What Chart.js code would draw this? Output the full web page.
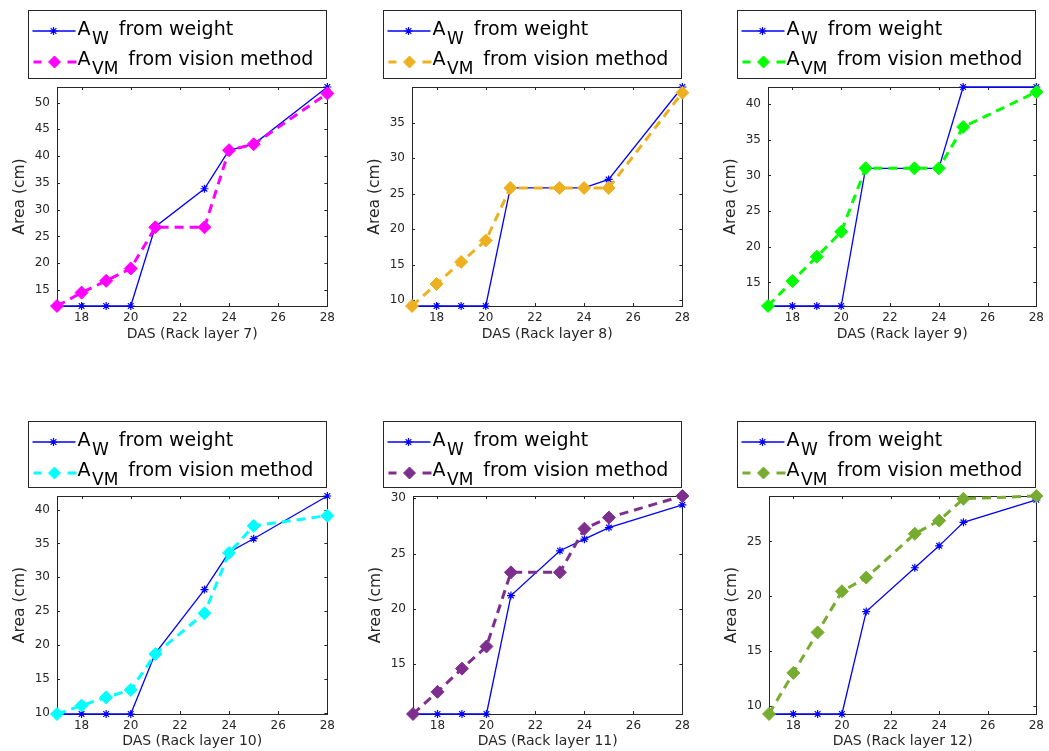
<!DOCTYPE html>
<html>
<head>
<meta charset="utf-8">
<title>Area por capa</title>
<script src="https://cdn.jsdelivr.net/npm/chart.js@4.4.1/dist/chart.umd.min.js"></script>
<style>
    html, body { margin: 0; padding: 0; background: #fff; overflow: hidden; }
    #figura { position: relative; width: 1049px; height: 751px; }
    #figura canvas { position: absolute; }
</style>
</head>
<body>
<main id="figura"></main>
<script>
// dias despues de siembra
const dias = [17, 18, 19, 20, 21, 23, 24, 25, 28];
const ticksX = [18, 20, 22, 24, 26, 28];

const pesoL7 = [12, 12, 12, 12, 26.8, 33.9, 41.1, 42.2, 52.9];
const visionL7 = [12, 14.5, 16.7, 19, 26.7, 26.7, 41.1, 42.2, 51.7];
const ticksYL7 = [15, 20, 25, 30, 35, 40, 45, 50];

const pesoL8 = [9.2, 9.2, 9.2, 9.2, 25.8, 25.8, 25.8, 27, 40];
const visionL8 = [9.2, 12.3, 15.4, 18.4, 25.8, 25.8, 25.8, 25.8, 39.2];
const ticksYL8 = [10, 15, 20, 25, 30, 35];

const pesoL9 = [11.7, 11.7, 11.7, 11.7, 31, 31, 31, 42.4, 42.4];
const visionL9 = [11.7, 15.2, 18.6, 22.1, 31, 31, 31, 36.8, 41.7];
const ticksYL9 = [15, 20, 25, 30, 35, 40];

const pesoL10 = [9.85, 9.85, 9.85, 9.85, 18.8, 28.2, 33.7, 35.7, 42];
const visionL10 = [9.85, 11.1, 12.3, 13.4, 18.7, 24.7, 33.6, 37.6, 39.1];
const ticksYL10 = [10, 15, 20, 25, 30, 35, 40];

const pesoL11 = [10.5, 10.5, 10.5, 10.5, 21.2, 25.25, 26.3, 27.35, 29.4];
const visionL11 = [10.5, 12.5, 14.6, 16.6, 23.3, 23.3, 27.25, 28.25, 30.2];
const ticksYL11 = [15, 20, 25, 30];

const pesoL12 = [9.25, 9.25, 9.25, 9.25, 18.6, 22.6, 24.6, 26.75, 28.8];
const visionL12 = [9.25, 13, 16.7, 20.45, 21.7, 25.7, 26.9, 28.9, 29.15];
const ticksYL12 = [10, 15, 20, 25];

const capas = [7, 8, 9, 10, 11, 12];
const pesos = [pesoL7, pesoL8, pesoL9, pesoL10, pesoL11, pesoL12];
const visiones = [visionL7, visionL8, visionL9, visionL10, visionL11, visionL12];
const ticksY = [ticksYL7, ticksYL8, ticksYL9, ticksYL10, ticksYL11, ticksYL12];
const coloresVision = ["#FF00FF", "#EDB120", "#00FF00", "#00FFFF", "#7E2F8E", "#77AC30"];
const azul = "#0000FF";
const gris = "#262626";

// posicion de cada canvas y espacio que ocupan los ejes
const paneles = [
    { x: 0,   y: 0,   w: 340, h: 350, der: 12, alturaX: 44, padTitulo: 7, leyenda: 77 },
    { x: 355, y: 0,   w: 340, h: 350, der: 12, alturaX: 44, padTitulo: 7, leyenda: 77 },
    { x: 711, y: 0,   w: 338, h: 350, der: 8,  alturaX: 44, padTitulo: 7, leyenda: 77 },
    { x: 0,   y: 409, w: 340, h: 342, der: 12, alturaX: 37, padTitulo: 1, leyenda: 75 },
    { x: 356, y: 409, w: 339, h: 342, der: 12, alturaX: 37, padTitulo: 1, leyenda: 75 },
    { x: 712, y: 409, w: 337, h: 342, der: 8,  alturaX: 37, padTitulo: 1, leyenda: 75 }
];

Chart.defaults.font.family = "'DejaVu Sans', sans-serif";
Chart.defaults.color = gris;

// caja de ejes con marcas hacia adentro, como en matlab
const cajaEjes = {
    id: "cajaEjes",
    beforeDatasetsDraw(chart) {
        const { ctx, chartArea: a, scales } = chart;
        const largo = 3;
        ctx.save();
        ctx.strokeStyle = gris;
        ctx.lineWidth = 1;
        ctx.strokeRect(Math.round(a.left) + 0.5, Math.round(a.top) + 0.5,
            Math.round(a.right - a.left), Math.round(a.bottom - a.top));
        ctx.beginPath();
        scales.x.ticks.forEach(t => {
            const px = Math.round(scales.x.getPixelForValue(t.value)) + 0.5;
            ctx.moveTo(px, a.bottom); ctx.lineTo(px, a.bottom - largo);
            ctx.moveTo(px, a.top); ctx.lineTo(px, a.top + largo);
        });
        scales.y.ticks.forEach(t => {
            const py = Math.round(scales.y.getPixelForValue(t.value)) + 0.5;
            ctx.moveTo(a.left, py); ctx.lineTo(a.left + largo, py);
            ctx.moveTo(a.right, py); ctx.lineTo(a.right - largo, py);
        });
        ctx.stroke();
        ctx.restore();
    }
};

// "A" + subindice + resto del texto
function textoConSubindice(ctx, x, y, sub, resto) {
    ctx.font = "19px 'DejaVu Sans'";
    ctx.fillText("A", x, y);
    x += ctx.measureText("A").width + 1.5;
    ctx.font = "17px 'DejaVu Sans'";
    ctx.fillText(sub, x, y + 9);
    x += ctx.measureText(sub).width + 10;
    ctx.font = "19px 'DejaVu Sans'";
    ctx.fillText(resto, x, y);
}

// leyenda con caja encima del area de graficado
const leyendaCaja = {
    id: "leyendaCaja",
    afterDraw(chart, args, opts) {
        const { ctx, chartArea: a } = chart;
        const der = Math.round(a.right) - 0.5;
        const izq = der - 298;
        const arriba = Math.round(a.top - opts.arriba) + 0.5;
        const abajo = Math.round(a.top) - 8.5;
        ctx.save();
        ctx.fillStyle = "#fff";
        ctx.fillRect(izq, arriba, der - izq, abajo - arriba);
        ctx.strokeStyle = gris;
        ctx.lineWidth = 1;
        ctx.strokeRect(izq, arriba, der - izq, abajo - arriba);

        const y1 = arriba + 20.5, y2 = arriba + 51.5;
        // muestra de la serie por peso
        ctx.strokeStyle = azul;
        ctx.lineWidth = 1.3;
        ctx.beginPath(); ctx.moveTo(izq + 4, y1); ctx.lineTo(izq + 47, y1); ctx.stroke();
        ctx.fillStyle = azul;
        ctx.lineWidth = 1.2;
        Chart.helpers.drawPoint(ctx, { pointStyle: "star", radius: 4, rotation: 0, borderWidth: 1.2 }, izq + 25, y1);
        // muestra de la serie por vision
        ctx.strokeStyle = opts.color;
        ctx.fillStyle = opts.color;
        ctx.lineWidth = 3;
        ctx.beginPath();
        ctx.moveTo(izq + 5, y2); ctx.lineTo(izq + 13, y2);
        ctx.moveTo(izq + 39, y2); ctx.lineTo(izq + 48, y2);
        ctx.stroke();
        ctx.lineWidth = 1;
        Chart.helpers.drawPoint(ctx, { pointStyle: "rectRot", radius: 6, rotation: 0, borderWidth: 1 }, izq + 26, y2);

        ctx.fillStyle = "#000";
        ctx.textBaseline = "alphabetic";
        ctx.textAlign = "left";
        textoConSubindice(ctx, izq + 49, arriba + 24, "W", "from weight");
        textoConSubindice(ctx, izq + 49, arriba + 54, "VM", "from vision method");
        ctx.restore();
    }
};

function puntos(valores) {
    return dias.map((d, i) => ({ x: d, y: valores[i] }));
}

function crearPanel(p, i) {
    const lienzo = document.createElement("canvas");
    lienzo.width = p.w;
    lienzo.height = p.h;
    lienzo.style.left = p.x + "px";
    lienzo.style.top = p.y + "px";
    figura.appendChild(lienzo);

    const peso = pesos[i], vision = visiones[i], color = coloresVision[i];
    const todos = peso.concat(vision);

    new Chart(lienzo, {
        type: "line",
        data: {
            datasets: [{
                label: "A_W from weight",
                data: puntos(peso),
                borderColor: azul,
                borderWidth: 1.3,
                pointStyle: "star",
                pointRadius: 4,
                pointBorderWidth: 1.2,
                pointBorderColor: azul,
                pointBackgroundColor: azul,
                tension: 0,
                clip: false,
                order: 1
            }, {
                label: "A_VM from vision method",
                data: puntos(vision),
                borderColor: color,
                borderWidth: 3,
                borderDash: [9, 6],
                pointStyle: "rectRot",
                pointRadius: 6.5,
                pointBorderWidth: 1,
                pointBorderColor: color,
                pointBackgroundColor: color,
                tension: 0,
                clip: false,
                order: 0
            }]
        },
        options: {
            responsive: false,
            animation: false,
            events: [],
            layout: { padding: { left: 0, top: 87, right: p.der, bottom: 0 } },
            plugins: {
                legend: { display: false },
                tooltip: { enabled: false },
                leyendaCaja: { color: color, arriba: p.leyenda }
            },
            scales: {
                x: {
                    type: "linear",
                    min: dias[0],
                    max: dias[dias.length - 1],
                    grid: { display: false, drawTicks: false },
                    border: { display: false },
                    afterBuildTicks: s => { s.ticks = ticksX.map(v => ({ value: v })); },
                    afterFit: s => { s.height = p.alturaX; },
                    ticks: { font: { size: 12 }, padding: 5, maxRotation: 0, color: gris },
                    title: {
                        display: true,
                        text: `DAS (Rack layer ${capas[i]})`,
                        font: { size: 14 },
                        color: gris,
                        padding: { top: 0, bottom: p.padTitulo }
                    }
                },
                y: {
                    type: "linear",
                    min: Math.min(...todos),
                    max: Math.max(...todos),
                    grid: { display: false, drawTicks: false },
                    border: { display: false },
                    afterBuildTicks: s => { s.ticks = ticksY[i].map(v => ({ value: v })); },
                    afterFit: s => { s.width = 57; },
                    ticks: { font: { size: 12 }, padding: 7, color: gris },
                    title: {
                        display: true,
                        text: "Area (cm)",
                        font: { size: 15.5 },
                        color: gris,
                        padding: { top: 11, bottom: 0 }
                    }
                }
            }
        },
        plugins: [cajaEjes, leyendaCaja]
    });
}

const figura = document.querySelector("main#figura");
paneles.forEach(crearPanel);
</script>
</body>
</html>
